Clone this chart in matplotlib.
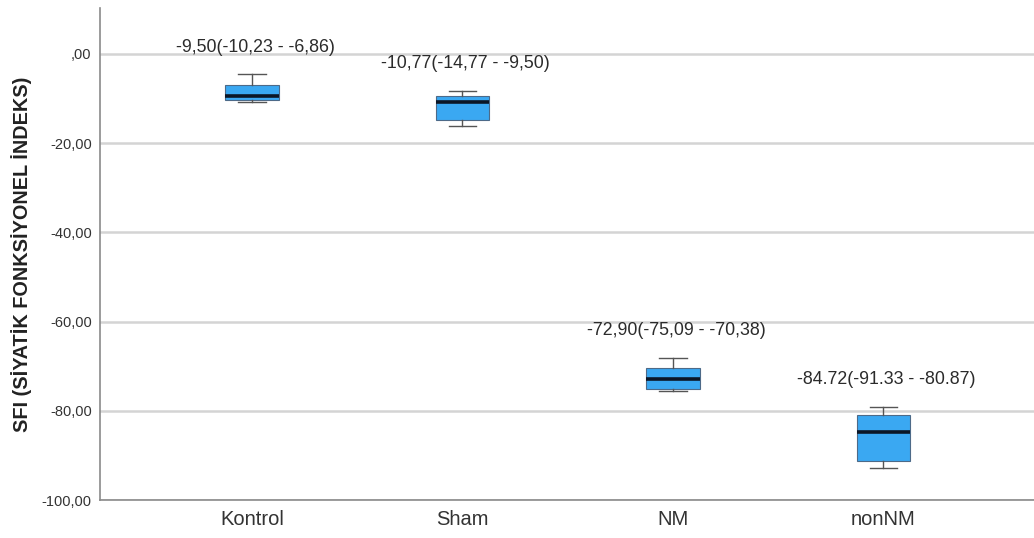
import matplotlib.pyplot as plt

plt.rcParams['font.family'] = ['Liberation Sans', 'DejaVu Sans']

# group summaries (median, quartiles, whisker ends)
groups = ["Kontrol", "Sham", "NM", "nonNM"]
medians = [-9.50, -10.77, -72.90, -84.72]
q1 = [-10.23, -14.77, -75.09, -91.33]
q3 = [-6.86, -9.50, -70.38, -80.87]
whislo = [-10.7, -16.2, -75.5, -92.9]
whishi = [-4.6, -8.2, -68.1, -79.1]
dec_sep = [",", ",", ",", "."]

yticks = [0, -20, -40, -60, -80, -100]


def fmt(v, sep):
    return f"{v:.2f}".replace(".", sep)


def fmt_tick(v):
    s = f"{v:.2f}".replace(".", ",")
    return s[1:] if s.startswith("0") else s


fig = plt.figure(figsize=(10.34, 5.38), dpi=100)
ax = fig.add_axes([100 / 1034, 38 / 538, 934 / 1034, 492 / 538])

stats = []
for i, g in enumerate(groups):
    stats.append(dict(label=g, med=medians[i], q1=q1[i], q3=q3[i],
                      whislo=whislo[i], whishi=whishi[i], fliers=[]))

pos = list(range(len(groups)))
ax.bxp(stats, positions=pos, widths=0.252, patch_artist=True, showfliers=False,
       boxprops=dict(facecolor="#3aa8f2", edgecolor="#4d6a88", linewidth=0.8),
       medianprops=dict(color="#0b1626", linewidth=2.6),
       whiskerprops=dict(color="#555555", linewidth=1.0),
       capprops=dict(color="#555555", linewidth=1.0),
       capwidths=0.13)

# median (Q1 - Q3) text over each box
for i in range(len(groups)):
    txt = f"{fmt(medians[i], dec_sep[i])}({fmt(q1[i], dec_sep[i])} - {fmt(q3[i], dec_sep[i])})"
    ax.annotate(txt, xy=(pos[i], whishi[i]), xytext=(3, 27), textcoords="offset pixels",
                ha="center", va="center", fontsize=12.8, color="#2b2b2b")

ax.set_xlim(-0.722, 3.715)
ax.set_ylim(-100, 10.3)
ax.set_yticks(yticks)
ax.set_yticklabels([fmt_tick(v) for v in yticks])
ax.set_xticks(pos)
ax.set_xticklabels(groups)

ax.grid(axis="y", color="#d4d4d4", linewidth=1.8)
ax.set_axisbelow(True)
for s in ["top", "right"]:
    ax.spines[s].set_visible(False)
for s in ["left", "bottom"]:
    ax.spines[s].set_color("#8a8a8a")
    ax.spines[s].set_linewidth(1.2)

ax.tick_params(axis="y", length=0, pad=6, labelsize=10.5, labelcolor="#333333")
ax.tick_params(axis="x", length=0, pad=7, labelsize=14.5, labelcolor="#333333")

ax.set_ylabel("SFI (SİYATİK FONKSİYONEL İNDEKS)", fontsize=14.3, fontweight="bold",
              color="#222222", labelpad=7)

fig.savefig("out.png", dpi=100, facecolor="white")
